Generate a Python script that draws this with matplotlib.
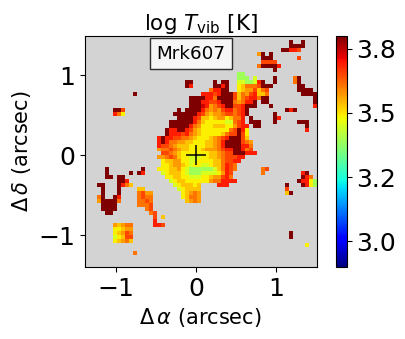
import numpy as np
import matplotlib
matplotlib.use('Agg')
import matplotlib.pyplot as plt

# colour level of each letter, in log T
levels = {'a': 3.39, 'b': 3.45, 'y': 3.49, 'g': 3.53, 'o': 3.57, 'n': 3.61,
          'r': 3.65, 'R': 3.69, 'd': 3.74, 'D': 3.80}

# (row from the top, first column, letters)
cells = [
    (1, 51, "D"), (1, 54, "D"), (2, 51, "DDDD"), (3, 49, "DDRRr"),
    (4, 43, "oD"), (4, 46, "D"), (5, 44, "DDD"), (5, 53, "r"), (6, 44, "rrrr"),
    (7, 43, "nDDDDR"), (8, 47, "D"), (9, 38, "aa"),
    (10, 38, "aaa"), (10, 42, "b"), (10, 47, "D"), (10, 52, "nD"),
    (11, 25, "DD"), (11, 32, "D"), (11, 34, "DD"), (11, 38, "bbaabRD"), (11, 47, "D"), (11, 52, "nD"),
    (12, 25, "DR"), (12, 32, "DDRD"), (12, 38, "ygnnnrDDD"), (12, 53, "DD"),
    (13, 31, "nRRDD"), (13, 38, "ygoorgnr"), (13, 53, "DDDD"),
    (14, 12, "D"), (14, 29, "RRRrRDDDr"), (14, 38, "gnorRggn"), (14, 54, "DDDD"),
    (15, 26, "DDDD"), (15, 30, "RRnDDDDrgnrRRnDD"), (15, 57, "D"),
    (16, 26, "DDDR"), (16, 30, "RrrRDDDnonRRD"), (16, 44, "DD"), (16, 57, "D"),
    (17, 26, "DDDd"), (17, 30, "RonrRDDrrRDDD"), (17, 46, "D"), (17, 57, "R"),
    (18, 7, "DDr"), (18, 23, "D"), (18, 25, "DDDDR"), (18, 30, "nonorRRnrRD"), (18, 50, "DRD"),
    (19, 7, "Rny"), (19, 22, "DDDDDDRr"), (19, 30, "ogoonrrnrRD"), (19, 47, "D"),
    (20, 23, "DDDDRrg"), (20, 30, "gygooygnnR"), (20, 41, "D"), (20, 47, "DR"),
    (21, 21, "DDDDDDRng"), (21, 30, "yyyyybbnrR"), (21, 41, "DDD"), (21, 47, "D"), (21, 53, "DDD"),
    (22, 21, "DDDDDRnoy"), (22, 30, "yygggyyorRR"), (22, 42, "DD"), (22, 55, "D"),
    (23, 20, "DRRDDRrogy"), (23, 30, "yyyyyynrDRy"), (23, 55, "R"),
    (24, 20, "DRRRrRnogy"), (24, 30, "yyyygnrrDry"),
    (25, 18, "RDRRrrnnogyy"), (25, 30, "ygonrRDDDrg"),
    (26, 18, "RDRnnooggyyy"), (26, 30, "ggonRDDDDrno"),
    (27, 18, "Rrrnogggyyyy"), (27, 30, "ggonRDDDDRRn"),
    (28, 18, "onnrnoggyyyg"), (28, 30, "ooonrRRDDRnr"),
    (29, 19, "rrnogyyyyy"), (29, 29, "yyggonrrDDDRRR"),
    (30, 18, "oonrngyybbb"), (30, 29, "yyggonrrrRR"),
    (31, 19, "yggooyybby"), (31, 29, "yyyggnrrRR"),
    (32, 19, "yygoogybyy"), (32, 29, "bbyggnRrn"),
    (33, 5, "D"), (33, 14, "D"), (33, 18, "yyyggoybaaa"), (33, 29, "aaabgnRrn"), (33, 44, "nr"),
    (34, 5, "D"), (34, 11, "D"), (34, 13, "DR"), (34, 19, "bygggybaaa"), (34, 29, "bbbbyoRr"), (34, 44, "n"), (34, 54, "RD"),
    (35, 5, "DD"), (35, 8, "DD"), (35, 20, "yyggyybbb"), (35, 29, "yygoorRn"), (35, 54, "DRn"),
    (36, 8, "DDR"), (36, 21, "byggyyyy"), (36, 29, "yyonnRRRR"), (36, 53, "DRRya"),
    (37, 3, "DD"), (37, 8, "DRng"), (37, 22, "bygggyg"), (37, 33, "RRR"), (37, 50, "D"), (37, 54, "DRya"),
    (38, 4, "D"), (38, 8, "D"), (38, 13, "gg"), (38, 23, "bygggg"), (38, 50, "r"),
    (39, 4, "D"), (39, 8, "D"), (39, 13, "nroo"), (39, 24, "ygono"), (39, 50, "gD"),
    (40, 3, "nD"), (40, 7, "DR"), (40, 13, "nrnn"), (40, 24, "ygnno"),
    (41, 3, "oDDDDn"), (41, 13, "nnrn"), (41, 25, "gono"),
    (42, 4, "DDDD"), (42, 13, "nnnr"), (43, 4, "DDDD"), (43, 15, "nr"),
    (44, 5, "DD"), (44, 16, "nr"), (45, 17, "r"), (45, 19, "g"), (46, 17, "R"),
    (47, 7, "ogonn"), (47, 17, "RRr"), (48, 7, "yygoo"),
    (49, 7, "ygorn"), (49, 51, "D"), (50, 7, "bygrr"), (50, 51, "D"),
    (51, 7, "ygong"), (52, 55, "y"), (54, 12, "n"),
]

xlim = [-1.39, 1.51]
ylim = [-1.40, 1.49]
cbar_ticks = [3.0, 3.25, 3.5, 3.75]

img = np.full((58, 58), np.nan)
for row, start, letters in cells:
    for i, c in enumerate(letters):
        img[row, start + i] = levels[c]

W, H = 405., 339.
fig = plt.figure(figsize=(W / 100, H / 100), dpi=100)
ax = fig.add_axes([85 / W, 1 - 267 / H, 231.5 / W, 231 / H])
ax.set_facecolor('lightgray')

im = ax.imshow(np.ma.masked_invalid(img), cmap='jet', vmin=2.9, vmax=3.8,
               extent=[xlim[0], xlim[1], ylim[0], ylim[1]], origin='upper',
               aspect='auto', interpolation='nearest')
ax.plot(0, 0, '+', color='k', ms=15, mew=1.1)
ax.set_xlim(xlim)
ax.set_ylim(ylim)
ax.set_xticks([-1, 0, 1])
ax.set_yticks([-1, 0, 1])
ax.tick_params(labelsize=18)
ax.set_xlabel(r'$\Delta\,\alpha$ (arcsec)', fontsize=15)
ax.set_ylabel(r'$\Delta\,\delta$ (arcsec)', fontsize=15)
ax.set_title(r'log $T_{\rm vib}$ [K]', fontsize=15.5, pad=4)
ax.text(-0.06, 1.27, 'Mrk607', fontsize=13.2, ha='center', va='center',
        bbox=dict(facecolor='white', edgecolor='k', alpha=0.8, pad=4.5))

cax = fig.add_axes([336 / W, 1 - 267 / H, 10.5 / W, 231 / H])
cb = fig.colorbar(im, cax=cax, ticks=cbar_ticks, format='%.1f')
cb.ax.tick_params(labelsize=18)

fig.savefig('out.png', dpi=100)
